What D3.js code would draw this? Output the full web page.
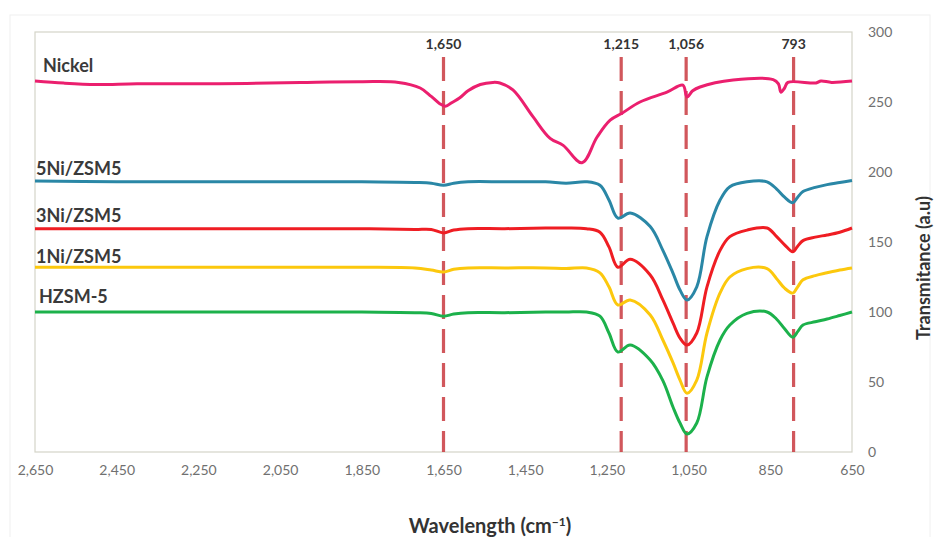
<!DOCTYPE html>
<html>
<head>
<meta charset="utf-8">
<script src="https://cdn.jsdelivr.net/npm/d3@7"></script>
<style>
  body { margin: 0; background: #fff; }
  text { font-family: Lato, "Open Sans", sans-serif; }
</style>
</head>
<body>
<div id="chart"></div>
<script>
// Nickel spectrum (own sampling points)
var nickelWn = [2650, 2580, 2500, 2400, 2200, 2000, 1850, 1760, 1707, 1680, 1660, 1645, 1630, 1610, 1590, 1560, 1529, 1512, 1480, 1431, 1389, 1357, 1311, 1274, 1242, 1213, 1169, 1103, 1064, 1054, 1040, 1022, 941, 843, 830, 824, 815, 807, 738, 726, 700, 650];
var nickelT  = [265, 263.5, 262.5, 263, 263, 264, 264.5, 264, 260, 254, 249, 247, 249.5, 253, 258, 262.5, 264, 263.6, 258.6, 239.5, 224, 219, 206.6, 225, 237, 242, 250, 257, 262, 253.6, 258, 260.7, 265.7, 266, 263, 257, 260, 264, 263.6, 265, 264, 265];

// ZSM series share one wavenumber grid
var zsmWn = [2650, 2450, 2250, 2050, 1850, 1720, 1680, 1650, 1625, 1590, 1500, 1400, 1350, 1300, 1267, 1245, 1223, 1193, 1144, 1113, 1088, 1071, 1054, 1030, 1005, 973, 949, 907, 858, 835, 815, 795, 783, 770, 740, 711, 680, 650];
var ni5T = [193.5, 193, 193, 193, 193, 192.5, 192, 190.5, 192, 193, 193, 193, 192, 193, 190.5, 180, 167, 170.7, 161, 144, 127.6, 115.7, 108.6, 118, 153.8, 180, 189.5, 193, 193, 188, 182, 178, 182, 186, 189, 191, 192.5, 194];
var ni3T = [159.5, 159.5, 159.5, 159.5, 159.5, 159, 159, 156.5, 158.5, 159.5, 159.5, 160, 160, 159.5, 157, 146.5, 132, 137.6, 126.4, 108.6, 92, 81.4, 76.4, 85, 118, 144, 153.8, 158.5, 160, 154, 148, 143, 147, 151, 153.5, 155, 157, 160];
var ni1T = [132, 132, 132, 132, 132, 131.5, 130, 128.6, 130.5, 131.5, 131.5, 131.5, 131, 131.5, 128, 118, 105, 108.6, 97.9, 80, 63.6, 51.4, 42, 51.4, 85, 113.6, 125, 131, 131, 124, 117, 113.5, 118, 123, 126, 128, 130, 131.5];
var hzsmT = [100, 100, 100, 100, 100, 99.5, 99, 97, 98.5, 99.5, 99.5, 100, 100, 100, 97, 85, 71.4, 76.4, 65.7, 51, 32, 20.7, 12.9, 20.7, 53.6, 80, 90.7, 99, 100, 95, 88, 82, 86, 90.7, 93, 95, 97.5, 100];

var seriesNames = ["Nickel", "5Ni/ZSM5", "3Ni/ZSM5", "1Ni/ZSM5", "HZSM-5"];
var peakWn = [1650, 1215, 1056, 793];
var peakLabels = ["1,650", "1,215", "1,056", "793"];
var xTicks = [2650, 2450, 2250, 2050, 1850, 1650, 1450, 1250, 1050, 850, 650];
var yTicks = [0, 50, 100, 150, 200, 250, 300];

var width = 936, height = 537;
var svg = d3.select("#chart").append("svg")
    .attr("width", width)
    .attr("height", height);

var x = d3.scaleLinear().domain([2650, 650]).range([35, 852]);
var y = d3.scaleLinear().domain([0, 300]).range([452, 32]);

// faint outer frame
svg.append("rect")
    .attr("x", 10).attr("y", 15)
    .attr("width", 920).attr("height", 530)
    .attr("fill", "none")
    .attr("stroke", "#f0f0f0");

// plot area border
svg.append("rect")
    .attr("x", x(2650)).attr("y", y(300))
    .attr("width", x(650) - x(2650)).attr("height", y(0) - y(300))
    .attr("fill", "none")
    .attr("stroke", "#d4d4c8")
    .attr("stroke-width", 1.2);

// x axis tick labels
var xAxis = d3.axisBottom(x).tickValues(xTicks).tickSize(0).tickPadding(13)
    .tickFormat(d3.format(","));
var gx = svg.append("g").attr("transform", "translate(0," + y(0) + ")").call(xAxis);
gx.select(".domain").remove();
gx.selectAll("text").attr("font-size", "14px").attr("fill", "#707070")
    .attr("font-family", "Lato, sans-serif");

// y axis on the right
var yAxis = d3.axisRight(y).tickValues(yTicks).tickSize(0).tickPadding(16);
var gy = svg.append("g").attr("transform", "translate(" + x(650) + ",0)").call(yAxis);
gy.select(".domain").remove();
gy.selectAll("text").attr("font-size", "14px").attr("fill", "#707070")
    .attr("font-family", "Lato, sans-serif");

// dashed peak lines
svg.selectAll(".peak")
    .data(peakWn)
    .enter().append("line")
    .attr("class", "peak")
    .attr("x1", function(d) { return x(d); })
    .attr("x2", function(d) { return x(d); })
    .attr("y1", 57)
    .attr("y2", y(0))
    .attr("stroke", "#c9393f")
    .attr("stroke-opacity", 0.85)
    .attr("stroke-width", 3.2)
    .attr("stroke-dasharray", "24,10");

svg.selectAll(".peakLabel")
    .data(peakWn)
    .enter().append("text")
    .attr("x", function(d) { return x(d); })
    .attr("y", 49)
    .attr("text-anchor", "middle")
    .attr("font-size", "14px")
    .attr("font-weight", "bold")
    .attr("fill", "#333")
    .text(function(d, i) { return peakLabels[i]; });

// spectra
var line = d3.line()
    .x(function(d) { return x(d[0]); })
    .y(function(d) { return y(d[1]); })
    .curve(d3.curveCatmullRom.alpha(0.5));

var spectra = [
    { name: seriesNames[0], wn: nickelWn, t: nickelT, color: "#eb1f6e" },
    { name: seriesNames[1], wn: zsmWn, t: ni5T, color: "#2a87a6" },
    { name: seriesNames[2], wn: zsmWn, t: ni3T, color: "#ef1d23" },
    { name: seriesNames[3], wn: zsmWn, t: ni1T, color: "#fcc80d" },
    { name: seriesNames[4], wn: zsmWn, t: hzsmT, color: "#1cb14b" }
];

svg.selectAll(".spectrum")
    .data(spectra)
    .enter().append("path")
    .attr("class", "spectrum")
    .attr("fill", "none")
    .attr("stroke", function(d) { return d.color; })
    .attr("stroke-width", 3)
    .attr("stroke-linejoin", "round")
    .attr("d", function(d) {
        return line(d.wn.map(function(w, i) { return [w, d.t[i]]; }));
    });

// series labels
var labelPos = [[43, 72], [36, 175], [36, 222], [36, 263], [39, 303]];
svg.selectAll(".seriesLabel")
    .data(seriesNames)
    .enter().append("text")
    .attr("x", function(d, i) { return labelPos[i][0]; })
    .attr("y", function(d, i) { return labelPos[i][1]; })
    .attr("font-size", "18px")
    .attr("font-weight", "bold")
    .attr("fill", "#3a3a3a")
    .text(function(d) { return d; });

// axis titles
var xt = svg.append("text")
    .attr("x", 490)
    .attr("y", 533)
    .attr("text-anchor", "middle")
    .attr("font-size", "20px")
    .attr("font-weight", "bold")
    .attr("fill", "#333");
xt.append("tspan").text("Wavelength (cm");
xt.append("tspan").attr("dy", -7).attr("font-size", "12px").text("\u22121");
xt.append("tspan").attr("dy", 7).text(")");

svg.append("text")
    .attr("transform", "translate(930,268) rotate(-90)")
    .attr("text-anchor", "middle")
    .attr("font-size", "18px")
    .attr("font-weight", "bold")
    .attr("fill", "#333")
    .text("Transmitance (a.u)");
</script>
</body>
</html>
